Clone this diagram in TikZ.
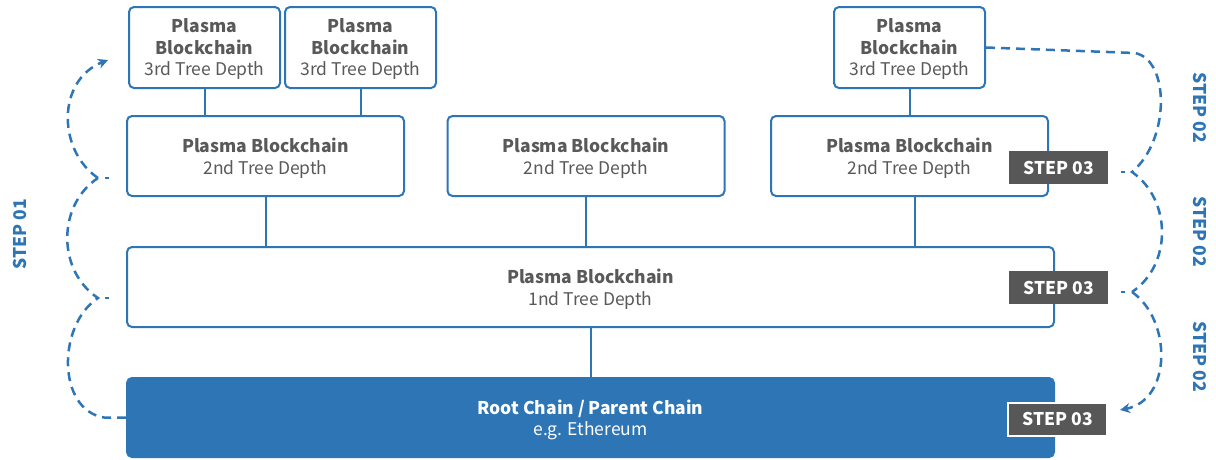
\documentclass[tikz,border=0pt]{standalone}
\usepackage{fontspec}
\setmainfont{Noto Sans CJK KR}
\usetikzlibrary{arrows.meta}

\definecolor{plasmablue}{HTML}{2E75B6}
\definecolor{textgray}{HTML}{595959}
\definecolor{stepgray}{HTML}{575757}

\tikzset{
  chainbox/.style={draw=plasmablue, line width=2pt, rounded corners=5pt, fill=white, text=textgray, align=center, inner sep=0pt, text depth=0pt, font=\fontsize{17.5}{21.5}\selectfont},
  smallbox/.style={chainbox, minimum width=151pt, minimum height=81pt},
  widebox/.style={chainbox, minimum width=277pt, minimum height=80pt},
  longbox/.style={chainbox, minimum width=927pt, minimum height=80pt},
  steptag/.style={fill=stepgray, text=white, font=\bfseries\fontsize{17.5}{20}\selectfont, minimum width=99pt, minimum height=33pt, inner sep=0pt},
  steptext/.style={text=plasmablue, font=\bfseries\fontsize{17.5}{20}\selectfont},
  treeline/.style={draw=plasmablue, line width=2pt},
  stepflow/.style={draw=plasmablue, line width=2.5pt, dash pattern=on 9pt off 6pt},
}

\begin{document}
\begin{tikzpicture}[x=1pt,y=-1pt]
\useasboundingbox (0,0) rectangle (1216,459);

\node[smallbox] (third1) at (204.5,47.5) {\textbf{Plasma}\\\textbf{Blockchain}\\3rd Tree Depth};
\node[smallbox] (third2) at (360.5,47.5) {\textbf{Plasma}\\\textbf{Blockchain}\\3rd Tree Depth};
\node[smallbox] (third3) at (909.5,47.5) {\textbf{Plasma}\\\textbf{Blockchain}\\3rd Tree Depth};

\node[widebox] (second1) at (265.5,156) {\textbf{Plasma Blockchain}\\2nd Tree Depth};
\node[widebox] (second2) at (586,156) {\textbf{Plasma Blockchain}\\2nd Tree Depth};
\node[widebox] (second3) at (909.5,156) {\textbf{Plasma Blockchain}\\2nd Tree Depth};

\node[longbox] (first) at (590.5,287) {\textbf{Plasma Blockchain}\\1nd Tree Depth};
\node[longbox, fill=plasmablue, text=white, minimum height=79pt] (root) at (590.5,417.5) {\textbf{Root Chain / Parent Chain}\\e.g. Ethereum};

\draw[treeline] (third1.south) -- (third1.south |- second1.north);
\draw[treeline] (third2.south) -- (third2.south |- second1.north);
\draw[treeline] (third3.south) -- (second3.north);
\draw[treeline] (second1.south) -- (second1.south |- first.north);
\draw[treeline] (second2.south) -- (second2.south |- first.north);
\draw[treeline] ([xshift=5]second3.south) -- ([xshift=5]second3.south |- first.north);
\draw[treeline] (first.south) -- (root.north);

\node[steptag] (tag1) at (1058.5,167.5) {STEP 03};
\node[steptag] (tag2) at (1058.5,287.5) {STEP 03};
\node[steptag, draw=white, line width=2pt] (tag3) at (1057.5,419) {STEP 03};

\coordinate (lefttip) at (108,60);
\coordinate (leftcusp1) at (98,178);
\coordinate (leftcusp2) at (98,298);
\coordinate (righttip) at (1120,410);
\coordinate (rightcusp1) at (1132,172);
\coordinate (rightcusp2) at (1132,292);

\draw[stepflow] (root.west) -- ++(-22,0) .. controls (57,410) and (57,325) .. (leftcusp2) .. controls (57,271) and (57,205) .. (leftcusp1);
\draw[stepflow, -{Stealth[length=10pt,width=10pt]}] (leftcusp1) .. controls (57,150) and (57,80) .. (lefttip);
\draw[plasmablue, line width=2.5pt] ([xshift=7]leftcusp1) -- ++(4,0);
\draw[plasmablue, line width=2.5pt] ([xshift=7]leftcusp2) -- ++(4,0);

\draw[stepflow] (third3.east) -- (1135,53) .. controls (1170,60) and (1170,140) .. (rightcusp1) .. controls (1172,200) and (1172,265) .. (rightcusp2);
\draw[stepflow, -{Stealth[length=10pt,width=10pt]}] (rightcusp2) .. controls (1172,320) and (1172,400) .. (righttip);
\draw[plasmablue, line width=2.5pt] ([xshift=-11]rightcusp1) -- ++(4,0);
\draw[plasmablue, line width=2.5pt] ([xshift=-11]rightcusp2) -- ++(4,0);

\node[steptext, rotate=90] (step1) at (20,234) {STEP 01};
\node[steptext, rotate=-90] (step2a) at (1200,108) {STEP 02};
\node[steptext, rotate=-90] (step2b) at (1200,232) {STEP 02};
\node[steptext, rotate=-90] (step2c) at (1200,357) {STEP 02};
\end{tikzpicture}
\end{document}
